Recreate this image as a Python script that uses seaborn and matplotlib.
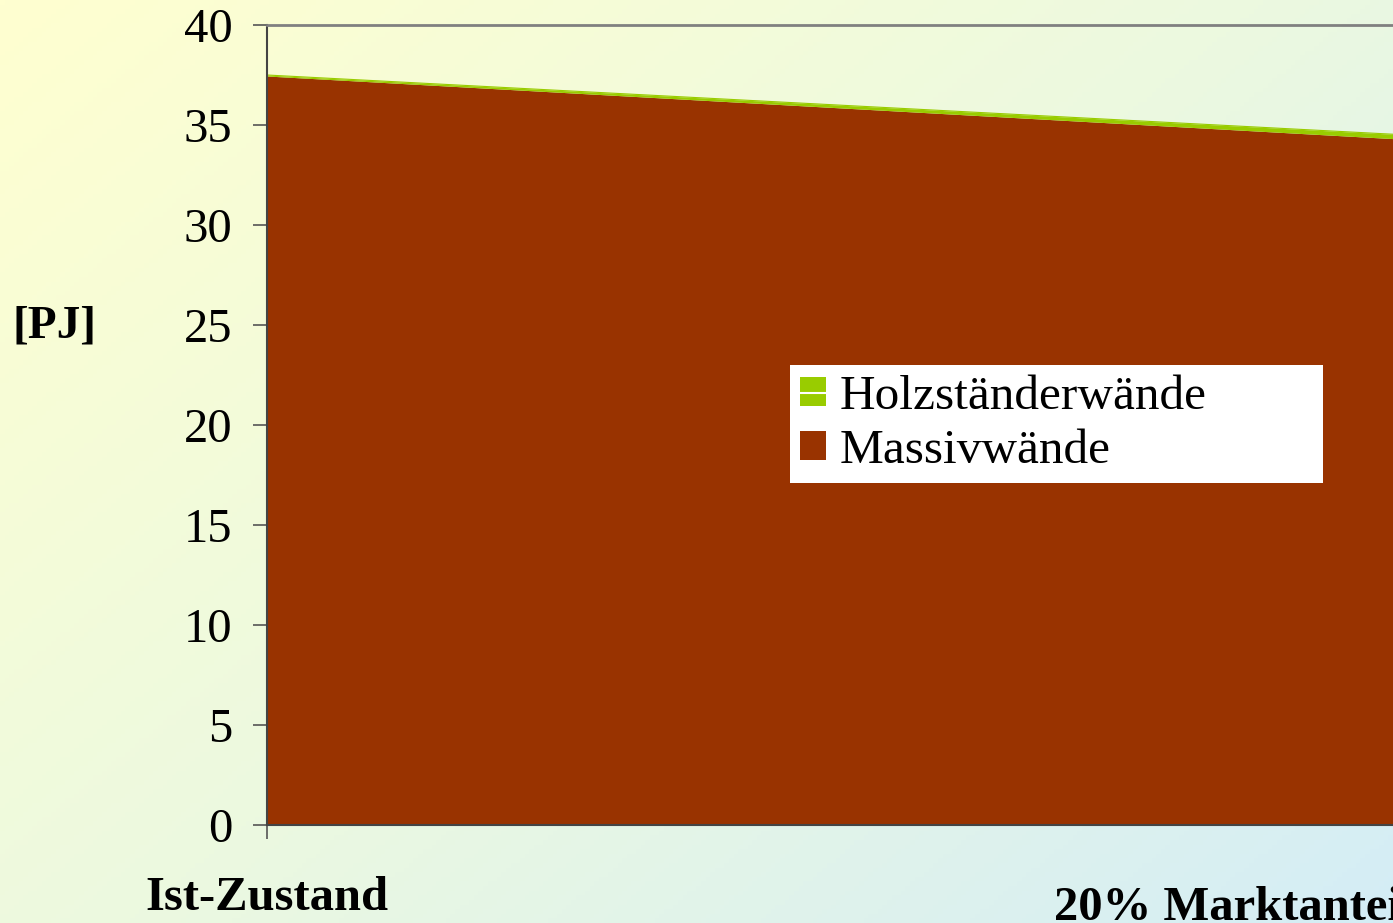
import numpy as np
import pandas as pd
import matplotlib
matplotlib.use("Agg")
import matplotlib.pyplot as plt
import matplotlib.transforms as mtransforms
from matplotlib.patches import Patch
from matplotlib.lines import Line2D
from matplotlib.legend_handler import HandlerTuple
import seaborn as sns

categories = ["Ist-Zustand", "20% Marktanteil"]
massivwaende = [37.45, 34.3]
holzstaenderwaende = [0.05, 0.22]
series_names = ["Holzständerwände", "Massivwände"]
colors = {"Holzständerwände": "#99CC00", "Massivwände": "#993300"}
y_ticks = [0, 5, 10, 15, 20, 25, 30, 35, 40]

sns.set_theme(style="white")
plt.rcParams["font.family"] = ["Liberation Serif", "DejaVu Serif"]
plt.rcParams["text.color"] = "black"
plt.rcParams["xtick.color"] = "black"
plt.rcParams["ytick.color"] = "black"

W, H, DPI = 1393, 923, 100
fig = plt.figure(figsize=(W / DPI, H / DPI), dpi=DPI)

# background gradient (yellow top-left -> light blue bottom-right)
bg = fig.add_axes([0, 0, 1, 1], zorder=-10)
xx, yy = np.meshgrid(np.linspace(0, 1, 300), np.linspace(0, 1, 200))
t = np.clip((xx * 0.55 + yy * 0.45), 0, 1)
c0 = np.array([255, 255, 208]) / 255
c1 = np.array([236, 249, 224]) / 255
c2 = np.array([212, 237, 246]) / 255
tt = t[..., None]
img = np.where(tt < 0.5, c0 + (c1 - c0) * (tt / 0.5), c1 + (c2 - c1) * ((tt - 0.5) / 0.5))
bg.imshow(img, aspect="auto", extent=[0, 1, 0, 1], origin="upper")
bg.set_axis_off()

left_px, right_px, top_px, bot_px = 267, 1400, 25, 825
ax = fig.add_axes([left_px / W, 1 - bot_px / H, (right_px - left_px) / W, (bot_px - top_px) / H])
ax.patch.set_alpha(0)

df = pd.DataFrame({"Kategorie": categories, "Massivwände": massivwaende,
                   "Holzständerwände": holzstaenderwaende})
x = np.arange(len(categories))
base = df["Massivwände"].to_numpy()
top = base + df["Holzständerwände"].to_numpy()
ax.fill_between(x, 0, base, color=colors["Massivwände"], linewidth=0)
ax.fill_between(x, base, top, color=colors["Holzständerwände"], linewidth=0)
sns.lineplot(x=x, y=top, ax=ax, color=colors["Holzständerwände"], linewidth=0.8)

ax.set_xlim(0, len(categories) - 1)
ax.set_ylim(0, 40)
ax.set_yticks(y_ticks)
ax.set_yticklabels([str(v) for v in y_ticks], fontsize=35)
ax.set_xticks(x)
ax.set_xticklabels(categories, fontsize=35, fontweight="bold")
ax.tick_params(axis="y", direction="out", length=10, width=1.2, color="#555555", pad=15, left=True,
               labelcolor="black")
ax.tick_params(axis="x", direction="out", length=10, width=1.2, color="#555555", pad=27, bottom=True,
               labelcolor="black")

lbls = ax.get_xticklabels()
lbls[1].set_ha("right")
lbls[1].set_transform(lbls[1].get_transform() + mtransforms.ScaledTranslation(0.15, -0.10, fig.dpi_scale_trans))

for s in ["left", "bottom"]:
    ax.spines[s].set_color("#444444")
    ax.spines[s].set_linewidth(1.5)
ax.spines["top"].set_color("#808080")
ax.spines["top"].set_linewidth(2)
ax.spines["right"].set_visible(False)

fig.text(55 / W, 1 - 326 / H, "[PJ]", fontsize=34, fontweight="bold", ha="center", va="center",
         color="black")

handles = [(Patch(facecolor=colors["Holzständerwände"], edgecolor="none"),
            Line2D([], [], color="white", linewidth=1.5)),
           Patch(facecolor=colors["Massivwände"], edgecolor="none")]
lx0, ly0, lx1, ly1 = 790, 365, 1323, 478
leg = ax.legend(handles, series_names, loc="upper left",
                bbox_to_anchor=(lx0 / W, 1 - ly1 / H, (lx1 - lx0) / W, (ly1 - ly0) / H),
                bbox_transform=fig.transFigure, mode="expand",
                handler_map={tuple: HandlerTuple(ndivide=1, pad=0)},
                frameon=True, fancybox=False, fontsize=35.5, handlelength=0.52, handleheight=0.52,
                handletextpad=0.28, labelspacing=0.2, borderpad=0.2, borderaxespad=0)
leg.get_frame().set_facecolor("white")
leg.get_frame().set_edgecolor("white")
leg.get_frame().set_alpha(1)
leg.get_frame().set_linewidth(0)
for txt in leg.get_texts():
    txt.set_color("black")

fig.savefig("out.png", dpi=DPI)
